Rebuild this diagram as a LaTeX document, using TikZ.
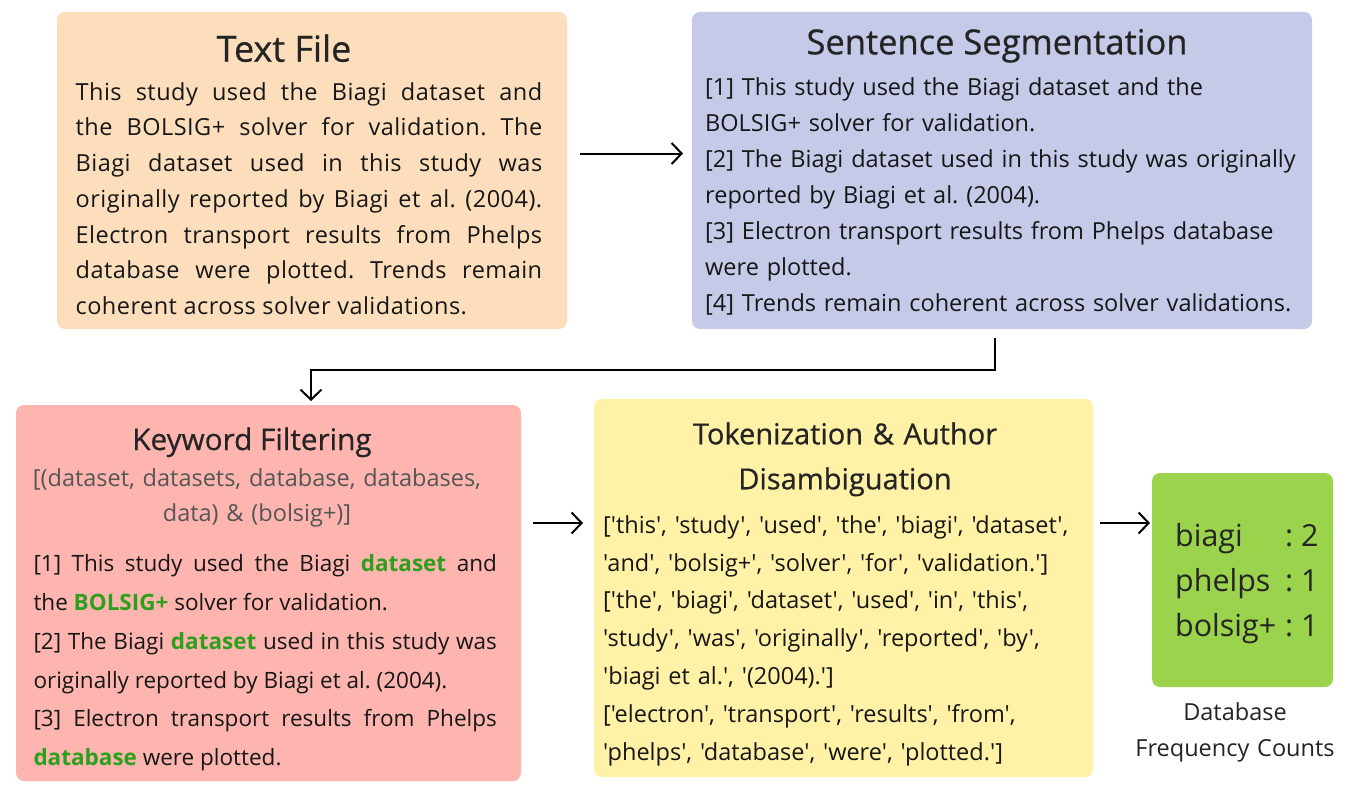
\documentclass[tikz,border=0pt]{standalone}
\usepackage{fontspec}
\setmainfont{Open Sans}[Ligatures=TeXOff]
\usetikzlibrary{arrows.meta}
\definecolor{peach}{RGB}{252,222,189}
\definecolor{lav}{RGB}{197,202,233}
\definecolor{pink}{RGB}{255,181,175}
\definecolor{yell}{RGB}{255,241,166}
\definecolor{lime}{RGB}{156,211,76}
\definecolor{hlgreen}{RGB}{44,160,28}
\definecolor{ink}{RGB}{22,22,22}
\definecolor{ttlcol}{RGB}{36,36,36}
\definecolor{subgray}{RGB}{85,85,85}
\newcommand\hl[1]{\textcolor{hlgreen}{\textbf{#1}}}
\newcommand\fs[2]{\fontsize{#1}{#2}\selectfont}
\newcommand\med{\addfontfeature{FakeBold=0.6}}
\hbadness=10000 \hfuzz=60pt
\frenchspacing
\begin{document}
\begin{tikzpicture}[x=1pt,y=-1pt,
  box/.style={rounded corners=8pt, draw=none, inner sep=0pt, outer sep=0pt},
  ttl/.style={anchor=base, inner sep=0pt, text=ttlcol},
  body/.style={anchor=base west, inner sep=0pt, text=ink},
  arr/.style={-{Straight Barb[length=10pt,width=21pt]}, line width=2pt, black}]
\useasboundingbox[fill=white] (0,0) rectangle (1350,800);

% boxes
\node[box, fill=peach, minimum width=510, minimum height=317] (tf) at (312,170.5) {};
\node[box, fill=lav, minimum width=620, minimum height=317] (seg) at (1002,170.5) {};
\node[box, fill=pink, minimum width=505, minimum height=376] (kw) at (268.5,593) {};
\node[box, fill=yell, minimum width=499, minimum height=378] (tok) at (843.5,588) {};
\node[box, fill=lime, minimum width=181, minimum height=214] (cnt) at (1242.5,580) {};

% Text File
\node[ttl, font=\fs{36}{40}\med] (tft) at (284,61.7) {Text File};
\node[body, text width=466.5pt, align=justify, font=\fs{23.5}{35.8}\addfontfeature{LetterSpace=2}] (tfb) at (75.5,100)
 {This study used the Biagi dataset and\linebreak
  the BOLSIG+ solver for validation. The\linebreak
  Biagi dataset used in this study was\linebreak
  originally reported by Biagi et al. (2004).\linebreak
  Electron transport results from Phelps\linebreak
  database were plotted. Trends remain\linebreak
  coherent across solver validations.};

% Sentence Segmentation
\node[ttl, font=\fs{34.5}{40}\med] (segt) at (997,54.3) {Sentence Segmentation};
\node[body, text width=600pt, align=left, font=\fs{23.5}{35.9}] (segb) at (705,95.7)
 {[1] This study used the Biagi dataset and the\\{}
  BOLSIG+ solver for validation.\\{}
  [2] The Biagi dataset used in this study was originally\\{}
  reported by Biagi et al. (2004).\\{}
  [3] Electron transport results from Phelps database\\{}
  were plotted.\\{}
  [4] Trends remain coherent across solver validations.};

% Keyword Filtering
\node[ttl, font=\fs{29.7}{34}\med] (kwt) at (252,450) {Keyword Filtering};
\node[ttl, text width=480pt, align=center, text=subgray, font=\fs{23.5}{35.7}] (kws) at (257,486)
 {[(dataset, datasets, database, databases,\\{} data) \& (bolsig+)]};
\node[body, text width=463.4pt, align=justify, font=\fs{22.5}{38.8}] (kwb) at (33.3,571.7)
 {[1] This study used the Biagi \hl{dataset} and\linebreak
  the \hl{BOLSIG+} solver for validation.\par
  [2] The Biagi \hl{dataset} used in this study was\linebreak
  originally reported by Biagi et al. (2004).\par
  [3] Electron transport results from Phelps\linebreak
  \hl{database} were plotted.};

% Tokenization
\node[ttl, text width=480pt, align=center, font=\fs{29}{45}\med] (tokt) at (845,444.3)
 {Tokenization \& Author\\{} Disambiguation};
\node[body, text width=490pt, align=left, font=\fs{23.5}{37.8}] (tokb) at (603,533.3)
 {['this', 'study', 'used', 'the', 'biagi', 'dataset',\\{}
  'and', 'bolsig+', 'solver', 'for', 'validation.']\\{}
  ['the', 'biagi', 'dataset', 'used', 'in', 'this',\\{}
  'study', 'was', 'originally', 'reported', 'by',\\{}
  'biagi et al.', '(2004).']\\{}
  ['electron', 'transport', 'results', 'from',\\{}
  'phelps', 'database', 'were', 'plotted.']};

% Counts
\node[body, text=ttlcol, font=\fs{30.4}{45}] (cntb) at (1175,546)
 {\begin{tabular}[t]{@{}l@{\hspace{9pt}}l@{}}
  biagi & : 2\\ phelps & : 1\\ bolsig+ & : 1
  \end{tabular}};
\node[ttl, text width=240pt, align=center, font=\fs{23.5}{36.7}] (cap) at (1235,720)
 {Database\\{} Frequency Counts};

% connectors
\draw[arr, shorten <=13pt, shorten >=9pt] ([yshift=17pt]tf.east) -- ([yshift=17pt]seg.west);
\draw[arr, shorten <=9pt, shorten >=4pt] ([xshift=-7pt]seg.south) -- ++(0,41) -| ([xshift=42.5pt]kw.north);
\draw[arr, shorten <=12pt, shorten >=11pt] ([yshift=70pt]kw.east) -- ([yshift=65pt]tok.west);
\draw[arr, shorten <=7pt, shorten >=2pt] ([yshift=65pt]tok.east) -- ([yshift=57pt]cnt.west);
\end{tikzpicture}
\end{document}
